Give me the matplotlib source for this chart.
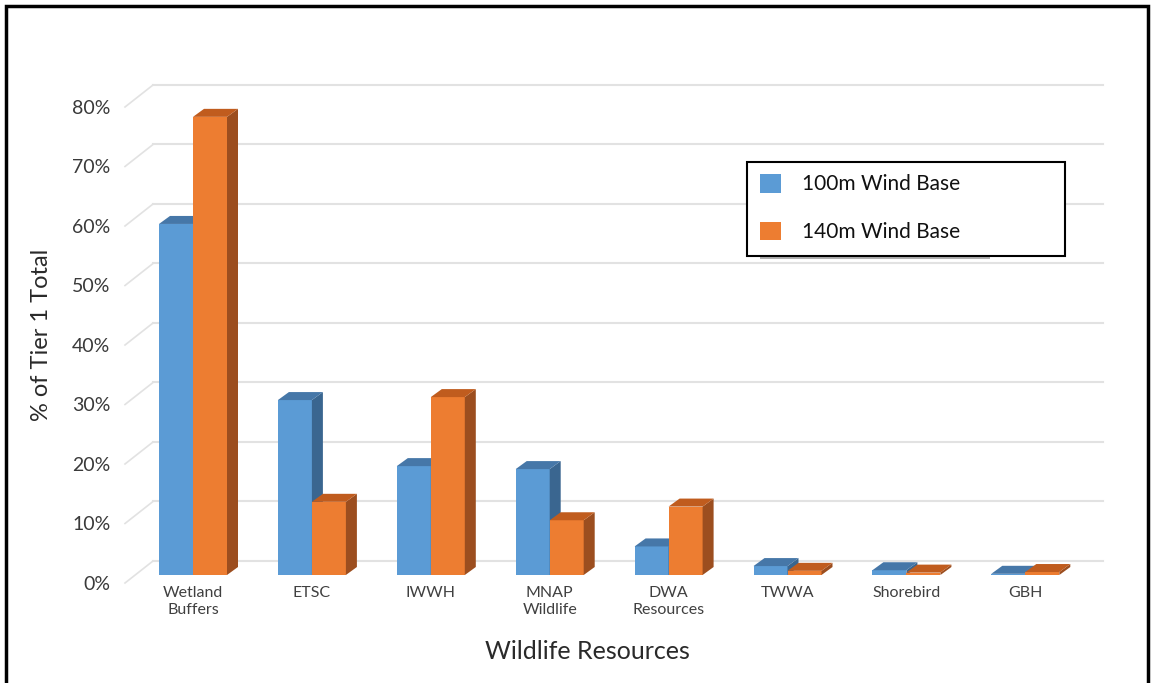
import matplotlib
matplotlib.use("Agg")
import matplotlib.pyplot as plt
from matplotlib.patches import Polygon, Rectangle
import numpy as np

categories = ["Wetland\nBuffers", "ETSC", "IWWH", "MNAP\nWildlife", "DWA\nResources",
              "TWWA", "Shorebird", "GBH"]
base_100m = [59.0, 29.4, 18.3, 17.8, 4.8, 1.5, 0.8, 0.2]
base_140m = [77.0, 12.3, 29.9, 9.2, 11.5, 0.7, 0.4, 0.5]
series_names = ["100m Wind Base", "140m Wind Base"]
y_ticks = [0, 10, 20, 30, 40, 50, 60, 70, 80]

plt.rcParams["font.family"] = ["Lato", "DejaVu Sans"]

W, H = 1156, 683
fig = plt.figure(figsize=(W / 100, H / 100), dpi=100)

# pixel geometry of the plot
px_cat = 118.9      # px per category
px_pct = 5.95       # px per percent
x0_px, y0_px = 193, 575   # first group centre, front baseline
L, R, T, B = 120, 1110, 60, 585
ax = fig.add_axes([L / W, (H - B) / H, (R - L) / W, (B - T) / H])
ax.set_xlim((L - x0_px) / px_cat, (R - x0_px) / px_cat)
ax.set_ylim((y0_px - B) / px_pct, (y0_px - T) / px_pct)
for s in ax.spines.values():
    s.set_visible(False)

# depth offsets (data units)
bar_w = 34 / px_cat
dx, dy = 11 / px_cat, 8 / px_pct
wall_dy = 14 / px_pct
wall_x0, wall_x1 = (153 - x0_px) / px_cat, (1103 - x0_px) / px_cat
diag_x = (125 - x0_px) / px_cat
diag_dy = (y0_px - 583) / px_pct

grid_c = "#e2e2e2"
for v in y_ticks:
    ax.plot([wall_x0, wall_x1], [v + wall_dy, v + wall_dy], color=grid_c, lw=1.5, zorder=1)
    ax.plot([diag_x, wall_x0], [v + diag_dy, v + wall_dy], color=grid_c, lw=1.2, zorder=1)

x = np.arange(len(categories))
colors = [("#5b9bd5", "#4677a8", "#3a6690"), ("#ed7d31", "#c05c1e", "#9c4e1f")]
handles = []
for i in range(len(categories)):
    for k, vals in enumerate([base_100m, base_140m]):
        front, top, side = colors[k]
        left = x[i] - bar_w + k * bar_w
        v = vals[i]
        z = 3 + i * 2 + k
        b = ax.bar(left, v, width=bar_w, align="edge", color=front, zorder=z,
                   label=series_names[k] if i == 0 else None)
        if i == 0:
            handles.append(b)
        ax.add_patch(Polygon([(left + bar_w, 0), (left + bar_w + dx, dy),
                              (left + bar_w + dx, v + dy), (left + bar_w, v)],
                             closed=True, color=side, zorder=z, lw=0))
        ax.add_patch(Polygon([(left, v), (left + bar_w, v), (left + bar_w + dx, v + dy),
                              (left + dx, v + dy)],
                             closed=True, color=top, zorder=z, lw=0))

ax.set_yticks([v + diag_dy for v in y_ticks])
ax.set_yticklabels([f"{v}%" for v in y_ticks], fontsize=14, color="#3a3a3a")
ax.tick_params(axis="y", length=0, pad=7)
ax.set_xticks(x)
ax.set_xticklabels(categories, fontsize=11.5, color="#404040", linespacing=1.25)
ax.tick_params(axis="x", length=0, pad=1)

ax.set_xlabel("Wildlife Resources", fontsize=18, color="#2a2a2a")
ax.xaxis.set_label_coords(587 / W, 1 - 640 / H, transform=fig.transFigure)
ax.set_ylabel("% of Tier 1 Total", fontsize=17, color="#2a2a2a")
ax.yaxis.set_label_coords(52 / W, 1 - 335 / H, transform=fig.transFigure)

# legend box with shadow
ax.add_patch(Rectangle((760 / W, 1 - 259 / H), 230 / W, 3 / H, transform=fig.transFigure,
                       facecolor="#b0b0b0", edgecolor="none", zorder=20, clip_on=False))
ax.add_patch(Rectangle((747 / W, 1 - 256 / H), 318 / W, 94 / H, transform=fig.transFigure,
                       facecolor="white", edgecolor="black", lw=1.5, zorder=21, clip_on=False))
leg = ax.legend(handles=handles, loc="upper left", bbox_to_anchor=(760 / W, 1 - 174 / H),
                bbox_transform=fig.transFigure, frameon=False, fontsize=15,
                handlelength=1.0, handleheight=1.0, handletextpad=1.0,
                labelspacing=1.3, borderpad=0, borderaxespad=0)
leg.set_zorder(30)
for t in leg.get_texts():
    t.set_color("#111111")

# outer frame
fig.patches.append(Rectangle((6 / W, -0.05), 1142 / W, 1.05 - 6 / H, transform=fig.transFigure,
                             facecolor="none", edgecolor="black", lw=2.5, zorder=40))

fig.savefig("out.png", dpi=100)
